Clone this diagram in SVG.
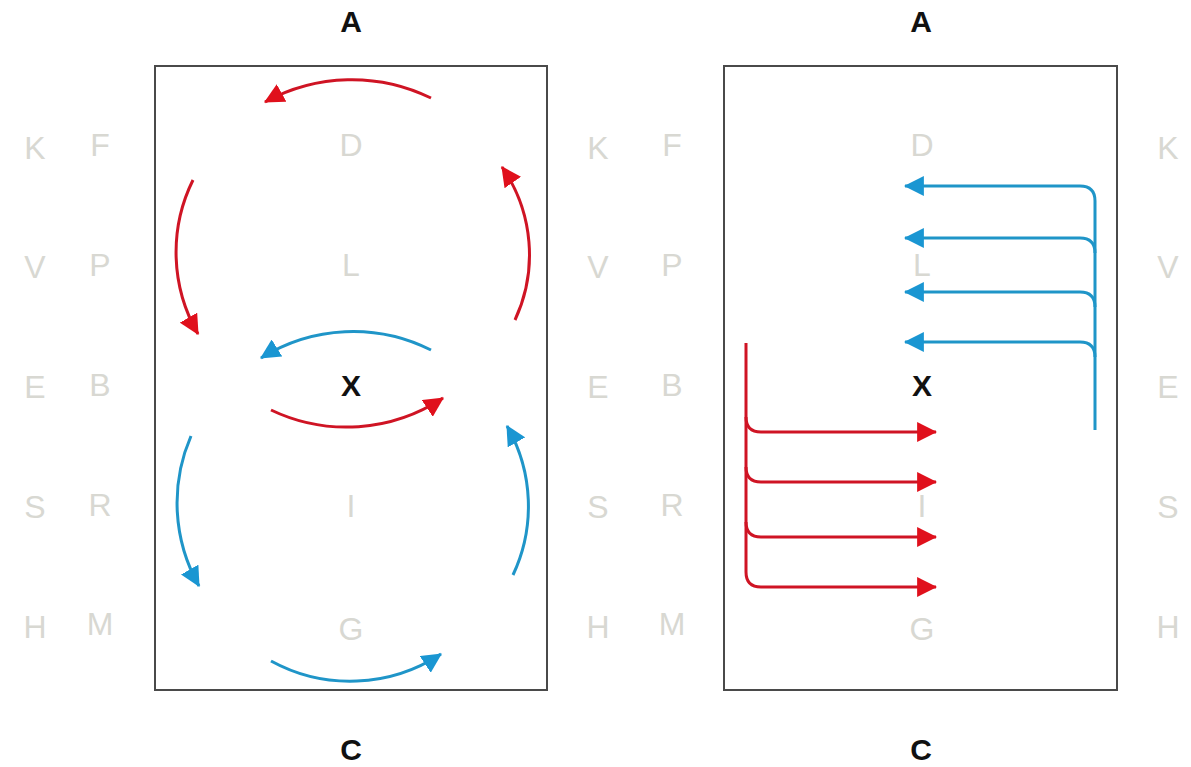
<svg xmlns="http://www.w3.org/2000/svg" width="1191" height="767" viewBox="0 0 1191 767">
<style>
.box{fill:#fff;stroke:#4a4a4a;stroke-width:2}
.lbl{font-family:"Liberation Sans",Arial,sans-serif;font-weight:bold;font-size:30px;fill:#111;text-anchor:middle}
.fnt{font-family:"Liberation Sans Narrow","Liberation Sans",Arial,sans-serif;font-size:32px;fill:#d8d8d2;text-anchor:middle}
.r{fill:none;stroke:#cf1424;stroke-width:3;marker-end:url(#ar)}
.b{fill:none;stroke:#1f95c8;stroke-width:3;marker-end:url(#ab)}
</style>
<defs>
<marker id="ar" markerUnits="userSpaceOnUse" markerWidth="20" markerHeight="20" viewBox="0 0 18 18" refX="17" refY="9" orient="auto"><path d="M0,0 L18,9 L0,18 z" fill="#e0101c"/></marker>
<marker id="ab" markerUnits="userSpaceOnUse" markerWidth="20" markerHeight="20" viewBox="0 0 18 18" refX="17" refY="9" orient="auto"><path d="M0,0 L18,9 L0,18 z" fill="#1a96d2"/></marker>
</defs>
<rect width="1191" height="767" fill="#fff"/>
<g id="panel-left">
<rect class="box" x="155" y="66" width="392" height="624"/>
</g>
<g id="panel-right">
<rect class="box" x="724" y="66" width="393" height="624"/>
</g>
<g id="labels-left">
<text class="lbl" x="351" y="32">A</text>
<text class="lbl" x="351" y="760">C</text>
<text class="lbl" x="351" y="396">X</text>
<text class="fnt" x="351" y="156">D</text>
<text class="fnt" x="351" y="276">L</text>
<text class="fnt" x="351" y="517">I</text>
<text class="fnt" x="351" y="640">G</text>
<text class="fnt" x="35" y="159">K</text>
<text class="fnt" x="35" y="278">V</text>
<text class="fnt" x="35" y="398">E</text>
<text class="fnt" x="35" y="518">S</text>
<text class="fnt" x="35" y="638">H</text>
<text class="fnt" x="100" y="156">F</text>
<text class="fnt" x="100" y="276">P</text>
<text class="fnt" x="100" y="396">B</text>
<text class="fnt" x="100" y="516">R</text>
<text class="fnt" x="100" y="635">M</text>
</g>
<g id="labels-right">
<text class="lbl" x="921" y="32">A</text>
<text class="lbl" x="921" y="760">C</text>
<text class="lbl" x="922" y="396">X</text>
<text class="fnt" x="922" y="156">D</text>
<text class="fnt" x="922" y="276">L</text>
<text class="fnt" x="922" y="517">I</text>
<text class="fnt" x="922" y="640">G</text>
<text class="fnt" x="598" y="159">K</text>
<text class="fnt" x="598" y="278">V</text>
<text class="fnt" x="598" y="398">E</text>
<text class="fnt" x="598" y="518">S</text>
<text class="fnt" x="598" y="638">H</text>
<text class="fnt" x="672" y="156">F</text>
<text class="fnt" x="672" y="276">P</text>
<text class="fnt" x="672" y="396">B</text>
<text class="fnt" x="672" y="516">R</text>
<text class="fnt" x="672" y="635">M</text>
<text class="fnt" x="1168" y="159">K</text>
<text class="fnt" x="1168" y="278">V</text>
<text class="fnt" x="1168" y="398">E</text>
<text class="fnt" x="1168" y="518">S</text>
<text class="fnt" x="1168" y="638">H</text>
</g>
<g id="connectors">
<path class="r" d="M431,98 A180,180 0 0,0 265,102"/>
<path class="r" d="M193,180 A163,163 0 0,0 198,334"/>
<path class="r" d="M515,320 A154,154 0 0,0 502,167"/>
<path class="b" d="M431,350 A173,173 0 0,0 261,358"/>
<path class="r" d="M271,410 A175,175 0 0,0 443,398"/>
<path class="b" d="M191,436 A168,168 0 0,0 199,586"/>
<path class="b" d="M513,575 A161,161 0 0,0 507,426"/>
<path class="b" d="M271,661 A165,165 0 0,0 441,654"/>
<path class="b" d="M1095,430 V201 Q1095,186 1080,186 H905"/>
<path class="b" d="M1095,253 Q1095,238 1080,238 H905"/>
<path class="b" d="M1095,307 Q1095,292 1080,292 H905"/>
<path class="b" d="M1095,357 Q1095,342 1080,342 H905"/>
<path class="r" d="M746,343 V572 Q746,587 761,587 H936"/>
<path class="r" d="M746,417 Q746,432 761,432 H936"/>
<path class="r" d="M746,467 Q746,482 761,482 H936"/>
<path class="r" d="M746,522 Q746,537 761,537 H936"/>
</g>
</svg>
